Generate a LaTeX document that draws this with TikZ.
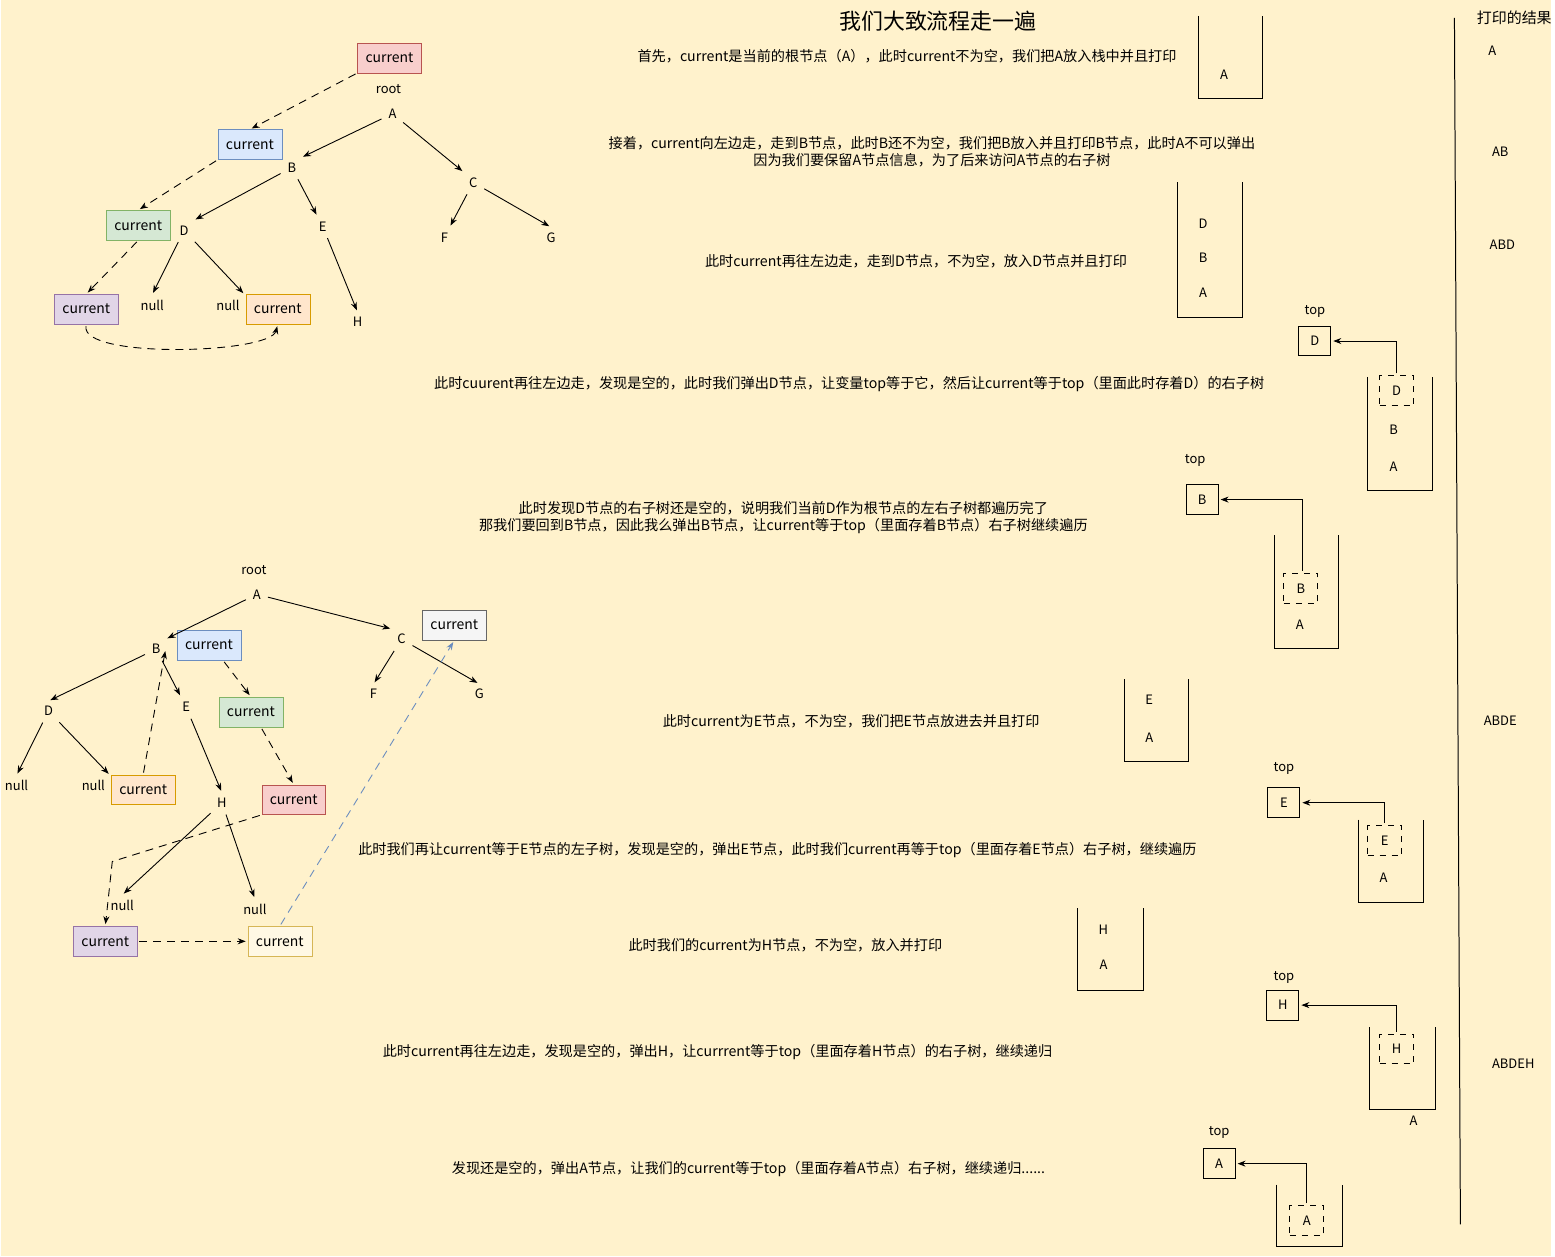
\documentclass[tikz,border=0pt]{standalone}
\usepackage{fontspec}
\setmainfont{Noto Sans CJK SC}
\usetikzlibrary{arrows.meta}
\definecolor{bg}{HTML}{FFF2CC}
\tikzset{
 x=1pt,y=-1pt,
 every node/.style={font=\fontsize{13}{15}\selectfont},
 lbl/.style={inner sep=5pt},
 txt/.style={font=\fontsize{14.2}{17}\selectfont,align=center},
 cur/.style={draw,minimum width=64,minimum height=30,inner sep=2pt,font=\fontsize{14}{16}\selectfont},
 cred/.style={cur,fill={rgb,255:red,248;green,206;blue,204},draw={rgb,255:red,184;green,84;blue,80}},
 cblue/.style={cur,fill={rgb,255:red,218;green,232;blue,252},draw={rgb,255:red,108;green,142;blue,191}},
 cgreen/.style={cur,fill={rgb,255:red,213;green,232;blue,212},draw={rgb,255:red,130;green,179;blue,102}},
 cpurple/.style={cur,fill={rgb,255:red,225;green,213;blue,231},draw={rgb,255:red,150;green,115;blue,166}},
 corange/.style={cur,fill={rgb,255:red,255;green,230;blue,204},draw={rgb,255:red,215;green,155;blue,0}},
 cwhite/.style={cur,fill={rgb,255:red,245;green,245;blue,245},draw={rgb,255:red,102;green,102;blue,102}},
 cyellow/.style={cur,fill={rgb,255:red,255;green,248;blue,228},draw={rgb,255:red,214;green,182;blue,86}},
 arr/.style={-{Stealth[length=8pt,width=6pt]},line width=0.9pt,shorten >=2pt,shorten <=2pt},
 darr/.style={arr,dash pattern=on 8pt off 6pt},
 stk/.style={line width=1pt},
 tbox/.style={draw,line width=1pt,minimum width=32,minimum height=30,inner sep=1pt},
 dbox/.style={draw,line width=1pt,dash pattern=on 6pt off 6pt,minimum width=34,minimum height=30,inner sep=1pt},
}
\begin{document}
\begin{tikzpicture}
\path[fill=bg] (0,0) rectangle (1555,1260);
% ---------- top tree
\node[cred] (c1) at (390,58) {current};
\node (root1) at (389,89) {root};
\node[lbl] (A1) at (393,114) {A};
\node[cblue] (c2) at (250,145) {current};
\node[lbl] (B1) at (292,168) {B};
\node[lbl] (C1) at (474,183) {C};
\node[lbl] (F1) at (445,238) {F};
\node[lbl] (G1) at (552,238) {G};
\node[lbl] (E1) at (323,227) {E};
\node[lbl] (H1) at (358,323) {H};
\node[cgreen] (c3) at (138,226) {current};
\node[lbl] (D1) at (184,231) {D};
\node[cpurple] (c4) at (86,310) {current};
\node[lbl] (n1) at (152,306) {null};
\node[lbl] (n2) at (228,306) {null};
\node[corange] (c5) at (278,310) {current};
\draw[arr] (A1) -- (B1.north east);
\draw[arr] (A1) -- (C1.north west);
\draw[arr] (C1) -- (F1);
\draw[arr] (C1) -- (G1.north);
\draw[arr] (B1) -- (D1.north east);
\draw[arr] (B1) -- (E1);
\draw[arr] (E1) -- (H1.north);
\draw[arr] (D1) -- (n1.north);
\draw[arr] (D1) -- (n2.north east);
\draw[darr] (c1.south west) -- (c2.north);
\draw[darr] (c2.south west) -- (c3.north);
\draw[darr] (c3.south) -- (c4.north);
\draw[darr] (c4.south) .. controls (80,360) and (270,355) .. (c5.south);
% ---------- right texts
\node[font=\fontsize{22}{24}\selectfont] (title) at (940,21) {我们大致流程走一遍};
\node[txt] (t1) at (909,56) {首先，current是当前的根节点（A），此时current不为空，我们把A放入栈中并且打印};
\node[txt] (t2) at (934,152) {接着，current向左边走，走到B节点，此时B还不为空，我们把B放入并且打印B节点，此时A不可以弹出\\因为我们要保留A节点信息，为了后来访问A节点的右子树};
\node[txt] (t3) at (918,262) {此时current再往左边走，走到D节点，不为空，放入D节点并且打印};
\node[txt] (t4) at (851,385) {此时cuurent再往左边走，发现是空的，此时我们弹出D节点，让变量top等于它，然后让current等于top（里面此时存着D）的右子树};
\node[txt] (t5) at (785,519) {此时发现D节点的右子树还是空的，说明我们当前D作为根节点的左右子树都遍历完了\\那我们要回到B节点，因此我么弹出B节点，让current等于top（里面存着B节点）右子树继续遍历};
\node[txt] (t6) at (853,723) {此时current为E节点，不为空，我们把E节点放进去并且打印};
\node[txt] (t7) at (779,852) {此时我们再让current等于E节点的左子树，发现是空的，弹出E节点，此时我们current再等于top（里面存着E节点）右子树，继续遍历};
\node[txt] (t8) at (787,948) {此时我们的current为H节点，不为空，放入并打印};
\node[txt] (t9) at (719,1055) {此时current再往左边走，发现是空的，弹出H，让currrent等于top（里面存着H节点）的右子树，继续递归};
\node[txt] (t10) at (750,1172) {发现还是空的，弹出A节点，让我们的current等于top（里面存着A节点）右子树，继续递归......};
% ---------- stacks
\draw[stk] (1201,16) -- (1201,99) -- (1266,99) -- (1266,16);
\node (s1a) at (1227,75) {A};
\draw[stk] (1180,183) -- (1180,318) -- (1245,318) -- (1245,183);
\node (s2d) at (1206,224) {D}; \node (s2b) at (1206,258) {B}; \node (s2a) at (1206,294) {A};
% stack 3
\node (tp1) at (1318,312) {top};
\node[tbox] (tD) at (1318,342) {D};
\draw[stk] (1371,378) -- (1371,492) -- (1436,492) -- (1436,378);
\node[dbox] (dD) at (1400,392) {D};
\node (s3b) at (1397,431) {B}; \node (s3a) at (1397,468) {A};
\draw[arr] (dD.north) |- (tD.east);
% stack 4
\node (tp2) at (1198,462) {top};
\node[tbox] (tB) at (1205,501) {B};
\draw[stk] (1278,537) -- (1278,650) -- (1342,650) -- (1342,537);
\node[dbox] (dB) at (1304,590) {B};
\node (s4a) at (1303,627) {A};
\draw[arr] (dB.north) ++(2,0) coordinate (q1) (q1) |- (tB.east);
% stack 5
\draw[stk] (1127,681) -- (1127,764) -- (1191,764) -- (1191,681);
\node (s5e) at (1152,702) {E}; \node (s5a) at (1152,740) {A};
% stack 6
\node (tp3) at (1287,771) {top};
\node[tbox] (tE) at (1287,805) {E};
\draw[stk] (1362,822) -- (1362,905) -- (1427,905) -- (1427,822);
\node[dbox] (dE) at (1388,843) {E};
\node (s6a) at (1387,880) {A};
\draw[arr] (dE.north) |- (tE.east);
% stack 7
\draw[stk] (1080,911) -- (1080,993) -- (1146,993) -- (1146,911);
\node (s7h) at (1106,932) {H}; \node (s7a) at (1106,968) {A};
% stack 8
\node (tp4) at (1287,980) {top};
\node[tbox] (tH) at (1286,1008) {H};
\draw[stk] (1373,1030) -- (1373,1113) -- (1439,1113) -- (1439,1030);
\node[dbox] (dH) at (1400,1052) {H};
\node (s8a) at (1417,1124) {A};
\draw[arr] (dH.north) |- (tH.east);
% stack 9
\node (tp5) at (1222,1136) {top};
\node[tbox] (tA) at (1222,1167) {A};
\draw[stk] (1280,1188) -- (1280,1250) -- (1346,1250) -- (1346,1188);
\node[dbox] (dA) at (1310,1224) {A};
\draw[arr] (dA.north) |- (tA.east);
% ---------- results
\draw[line width=1pt] (1458,18) coordinate (v1) -- (1464,1228) coordinate (v2);
\node[anchor=west,font=\fontsize{15}{17}\selectfont] (res) at (1477,18) {打印的结果};
\node (r1) at (1496,51) {A};
\node (r2) at (1504,152) {AB};
\node (r3) at (1506,245) {ABD};
\node (r4) at (1504,723) {ABDE};
\node (r5) at (1517,1067) {ABDEH};
% ---------- bottom tree
\node (root2) at (254,572) {root};
\node[lbl] (A2) at (257,596) {A};
\node[lbl] (B2) at (156,651) {B};
\node[cblue] (b1) at (209,647) {current};
\node[lbl] (C2) at (402,641) {C};
\node[cwhite] (b2) at (455,627) {current};
\node[lbl] (F2) at (374,696) {F};
\node[lbl] (G2) at (480,696) {G};
\node[lbl] (D2) at (48,713) {D};
\node[lbl] (E2) at (186,709) {E};
\node[cgreen] (b3) at (251,714) {current};
\node[lbl] (m1) at (16,788) {null};
\node[lbl] (m2) at (93,788) {null};
\node[corange] (b4) at (143,792) {current};
\node[lbl] (H2) at (222,805) {H};
\node[cred] (b5) at (294,802) {current};
\node[lbl] (m3) at (122,908) {null};
\node[lbl] (m4) at (255,912) {null};
\node[cpurple] (b6) at (105,944) {current};
\node[cyellow] (b7) at (280,944) {current};
\draw[arr] (A2) -- (B2.north east);
\draw[arr] (A2) -- (C2.north west);
\draw[arr] (C2) -- (F2.north);
\draw[arr] (C2) -- (G2.north);
\draw[arr] (B2) -- (D2.north);
\draw[arr] (B2) -- (E2);
\draw[arr] (D2) -- (m1.north);
\draw[arr] (D2) -- (m2.north east);
\draw[arr] (E2) -- (H2.north);
\draw[arr] (H2) -- (m3.north);
\draw[arr] (H2) -- (m4.north);
\draw[darr] (b1.south) ++(14,0) coordinate (q2) (q2) -- (b3.north);
\draw[darr] (b3.south) ++(10,0) coordinate (q3) (q3) -- (b5.north);
\draw[darr] (b4.north) -- (B2.east);
\draw[darr] (b5.south west) -- (112,864) coordinate (q4) -- (b6.north);
\draw[darr] (b6.east) -- (b7.west);
\draw[darr,draw={rgb,255:red,108;green,142;blue,191}] (b7.north) -- (b2.south);
\end{tikzpicture}
\end{document}
